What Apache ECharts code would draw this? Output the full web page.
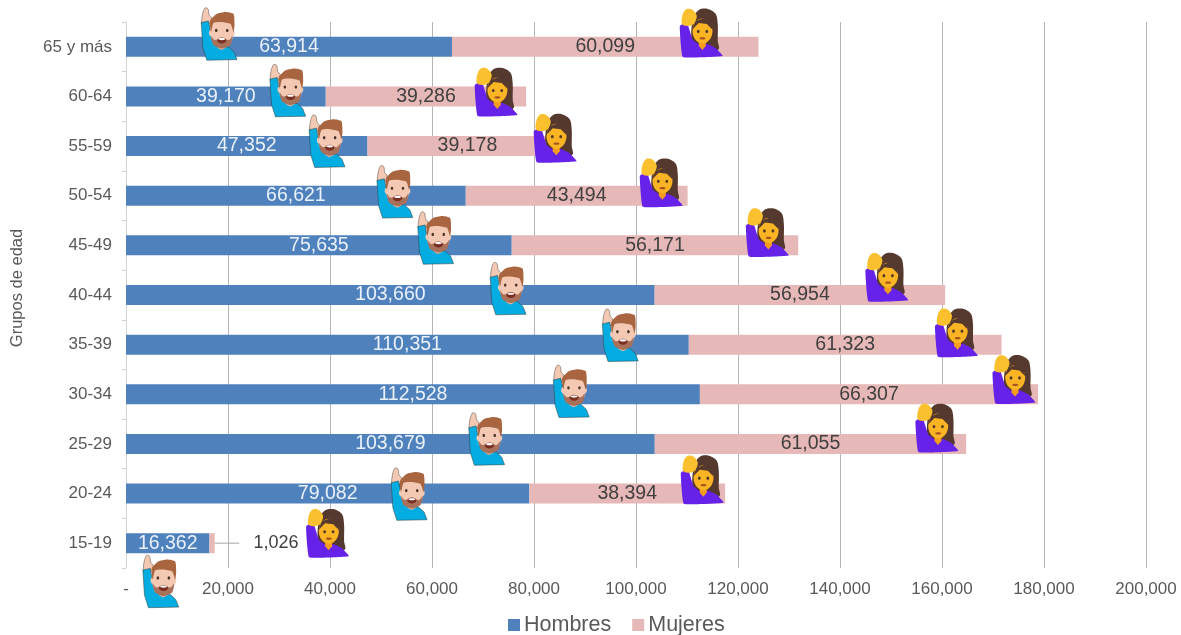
<!DOCTYPE html>
<html>
<head>
<meta charset="utf-8">
<title>Grupos de edad</title>
<script src="https://cdn.jsdelivr.net/npm/echarts@6/dist/echarts.min.js"></script>
<style>
  html, body { margin: 0; padding: 0; background: #fff; }
  #chart { width: 1181px; height: 635px; }
</style>
</head>
<body>
<div id="chart"></div>
<script>
// de abajo hacia arriba, igual que el eje
var categories = ["15-19", "20-24", "25-29", "30-34", "35-39", "40-44", "45-49", "50-54", "55-59", "60-64", "65 y más"];
var hombres = [16362, 79082, 103679, 112528, 110351, 103660, 75635, 66621, 47352, 39170, 63914];
var mujeres = [1026, 38394, 61055, 66307, 61323, 56954, 56171, 43494, 39178, 39286, 60099];
var xTicks = [0, 20000, 40000, 60000, 80000, 100000, 120000, 140000, 160000, 180000, 200000];

// donde cae cada emoji: valor en el eje x y cuanto sube respecto a la barra (en bandas)
var hombreEmojiX = [6900, 55600, 70800, 87400, 97000, 75000, 60800, 52800, 39500, 31800, 18340];
var hombreEmojiLift = [-0.77, -0.01, 0.1, 0.06, 0.19, 0.13, 0.15, 0.08, 0.1, 0.12, 0.26];
var mujerEmojiX = [39630, 113100, 159110, 174220, 162940, 149300, 125860, 105060, 84265, 72690, 112900];
var mujerEmojiLift = [0.2, 0.28, 0.32, 0.3, 0.24, 0.36, 0.26, 0.26, 0.16, 0.09, 0.28];

var textColor = "#595959";
var fontName = "Liberation Sans";

function fmt(v) {
  return v.toLocaleString("en-US");
}

function emojiData(xs, lifts) {
  return xs.map(function (x, i) {
    return [x, i, lifts[i]];
  });
}

function poly(points, fill, stroke, smooth) {
  return {
    type: "polygon",
    shape: { points: points, smooth: smooth || 0 },
    style: { fill: fill, stroke: stroke || null, lineWidth: stroke ? 1 : 0 },
  };
}

function oval(cx, cy, rx, ry, fill) {
  return { type: "ellipse", shape: { cx: cx, cy: cy, rx: rx, ry: ry }, style: { fill: fill } };
}

// hombre levantando la mano
function hombreShapes() {
  var skin = "#f3c9b4";
  var hair = "#a9653f";
  return [
    poly([[-18, -11], [-17, -20], [-14.5, -26], [-11.5, -25], [-10.5, -19], [-8, -16], [-10, -10], [-17, -9]], skin, "rgba(80,70,60,0.5)", 0.3),
    poly([[-18.3, -11.3], [-11, -13], [-7, 8], [1, 13], [9, 13], [14.5, 18], [17.5, 25.7], [-12.7, 26.3], [-16.7, 13.7]], "#03ade2", "rgba(50,70,70,0.55)"),
    poly([[-2, 8], [6, 8], [6, 14], [2, 16], [-2, 14]], "#e6b39b"),
    oval(-9, -1, 1.6, 3, skin),
    oval(13.5, -1, 1.6, 3, skin),
    oval(2.3, -1, 11.5, 14.5, skin),
    poly([[-8.5, -2], [-9.5, -13], [-3, -20], [6, -22], [14, -20], [15, -10], [14, -2], [11, -10], [2, -12], [-6, -11]], hair, null, 0.2),
    poly([[-8.5, 2], [-5, 6], [2.3, 4], [9.5, 6], [13, 2], [11, 11], [2.3, 14.5], [-6, 11]], "#a9705a", null, 0.2),
    oval(2.3, 6.5, 4.5, 3, "#7a2f22"),
    oval(2.3, 5.2, 3.4, 1.1, "#ffffff"),
    oval(-3.3, -3.5, 1.3, 1.6, "#4a3428"),
    oval(7.7, -3.5, 1.3, 1.6, "#4a3428"),
  ];
}

// mujer levantando la mano
function mujerShapes() {
  var face = "#fbb524";
  var hair = "#55382e";
  return [
    poly([[-9, -14], [-3, -23], [6, -24], [14, -19], [16, -8], [16, 8], [17, 16], [8, 18], [-9, 10]], hair, null, 0.3),
    poly([[-22, -7], [-15, -11], [-9, 7], [-3, 11], [6, 11], [14, 15], [21, 23], [-19, 24]], "#6622e8", null, 0.08),
    poly([[-20, -9], [-19, -19], [-15, -24], [-9, -23], [-5, -17], [-8, -9], [-15, -7]], "#fbc02d", null, 0.3),
    poly([[-3, 8], [4, 8], [4, 13], [0.5, 17], [-3, 13]], "#f39c1e"),
    oval(0.7, -2, 10, 12.5, face),
    poly([[-10, -3], [-6, -12], [2, -15], [9, -12], [11, -3], [5, -9], [-3, -10]], hair),
    oval(-3.5, -1.5, 1.4, 1.6, "#4f3a2a"),
    oval(5, -1.5, 1.4, 1.6, "#4f3a2a"),
    oval(0.7, 5.5, 3, 1.2, "#a8541c"),
  ];
}

function emojiSeries(name, data, shapes) {
  return {
    name: name,
    type: "custom",
    silent: true,
    clip: false,
    z: 10,
    data: data,
    encode: { x: 0, y: 1 },
    renderItem: function (params, api) {
      var p = api.coord([api.value(0), api.value(1)]);
      var band = api.size([0, 1])[1];
      return {
        type: "group",
        x: p[0],
        y: p[1] - api.value(2) * band,
        children: shapes(),
      };
    },
  };
}

var myChart = echarts.init(document.getElementById("chart"));
myChart.setOption({
  animation: false,
  backgroundColor: "#ffffff",
  textStyle: { fontFamily: fontName },
  grid: { left: 126, right: 35, top: 22, bottom: 67, outerBoundsMode: "none" },
  legend: {
    data: ["Hombres", "Mujeres"],
    left: 503,
    top: 609,
    icon: "rect",
    itemWidth: 12,
    itemHeight: 12,
    itemGap: 21,
    selectedMode: false,
    textStyle: { fontSize: 21.5, color: textColor, fontFamily: fontName, padding: [0, 0, 0, -1] },
  },
  xAxis: {
    type: "value",
    min: 0,
    max: 200000,
    interval: 20000,
    axisLine: { show: false },
    axisTick: { show: false },
    axisLabel: {
      fontSize: 17,
      color: textColor,
      margin: 13,
      formatter: function (v) {
        return xTicks.indexOf(v) === 0 ? "-" : fmt(v);
      },
    },
    splitLine: {
      show: true,
      showMinLine: false,
      lineStyle: { color: "#b5b5b5", width: 1 },
    },
  },
  yAxis: {
    type: "category",
    data: categories,
    name: "Grupos de edad",
    nameLocation: "middle",
    nameGap: 100,
    nameMoveOverlap: false,
    nameTextStyle: { fontSize: 16.5, color: textColor, fontFamily: fontName, padding: [0, 0, 0, 14] },
    axisLine: { show: true, lineStyle: { color: "#d4d4d4", width: 1 } },
    axisTick: { show: true, length: 4, lineStyle: { color: "#d4d4d4" } },
    axisLabel: { fontSize: 17, color: textColor, margin: 14 },
  },
  series: [
    {
      name: "Hombres",
      type: "bar",
      stack: "total",
      barWidth: 20,
      itemStyle: { color: "#4f81bd" },
      label: {
        show: true,
        position: "inside",
        fontSize: 19.5,
        color: "#eaf1fa",
        formatter: function (p) {
          return fmt(p.value);
        },
      },
      data: hombres,
    },
    {
      name: "Mujeres",
      type: "bar",
      stack: "total",
      barWidth: 20,
      itemStyle: { color: "#e6b8b7" },
      label: {
        show: true,
        position: "inside",
        fontSize: 19.5,
        color: "#404040",
        formatter: function (p) {
          return fmt(p.value);
        },
      },
      // la etiqueta de 15-19 no cabe y va afuera con su linea
      labelLayout: function (params) {
        if (params.dataIndex === 0) {
          return { dx: 57 };
        }
        return {};
      },
      labelLine: { show: true, lineStyle: { color: "#a6a6a6", width: 1 } },
      data: mujeres.map(function (v, i) {
        // el fondo blanco corta la linea antes de llegar al texto
        return i === 0 ? { value: v, label: { fontSize: 18, padding: [0, 0, 0, 14], backgroundColor: "#ffffff" } } : v;
      }),
    },
    emojiSeries("hombreEmoji", emojiData(hombreEmojiX, hombreEmojiLift), hombreShapes),
    emojiSeries("mujerEmoji", emojiData(mujerEmojiX, mujerEmojiLift), mujerShapes),
  ],
});
</script>
</body>
</html>
